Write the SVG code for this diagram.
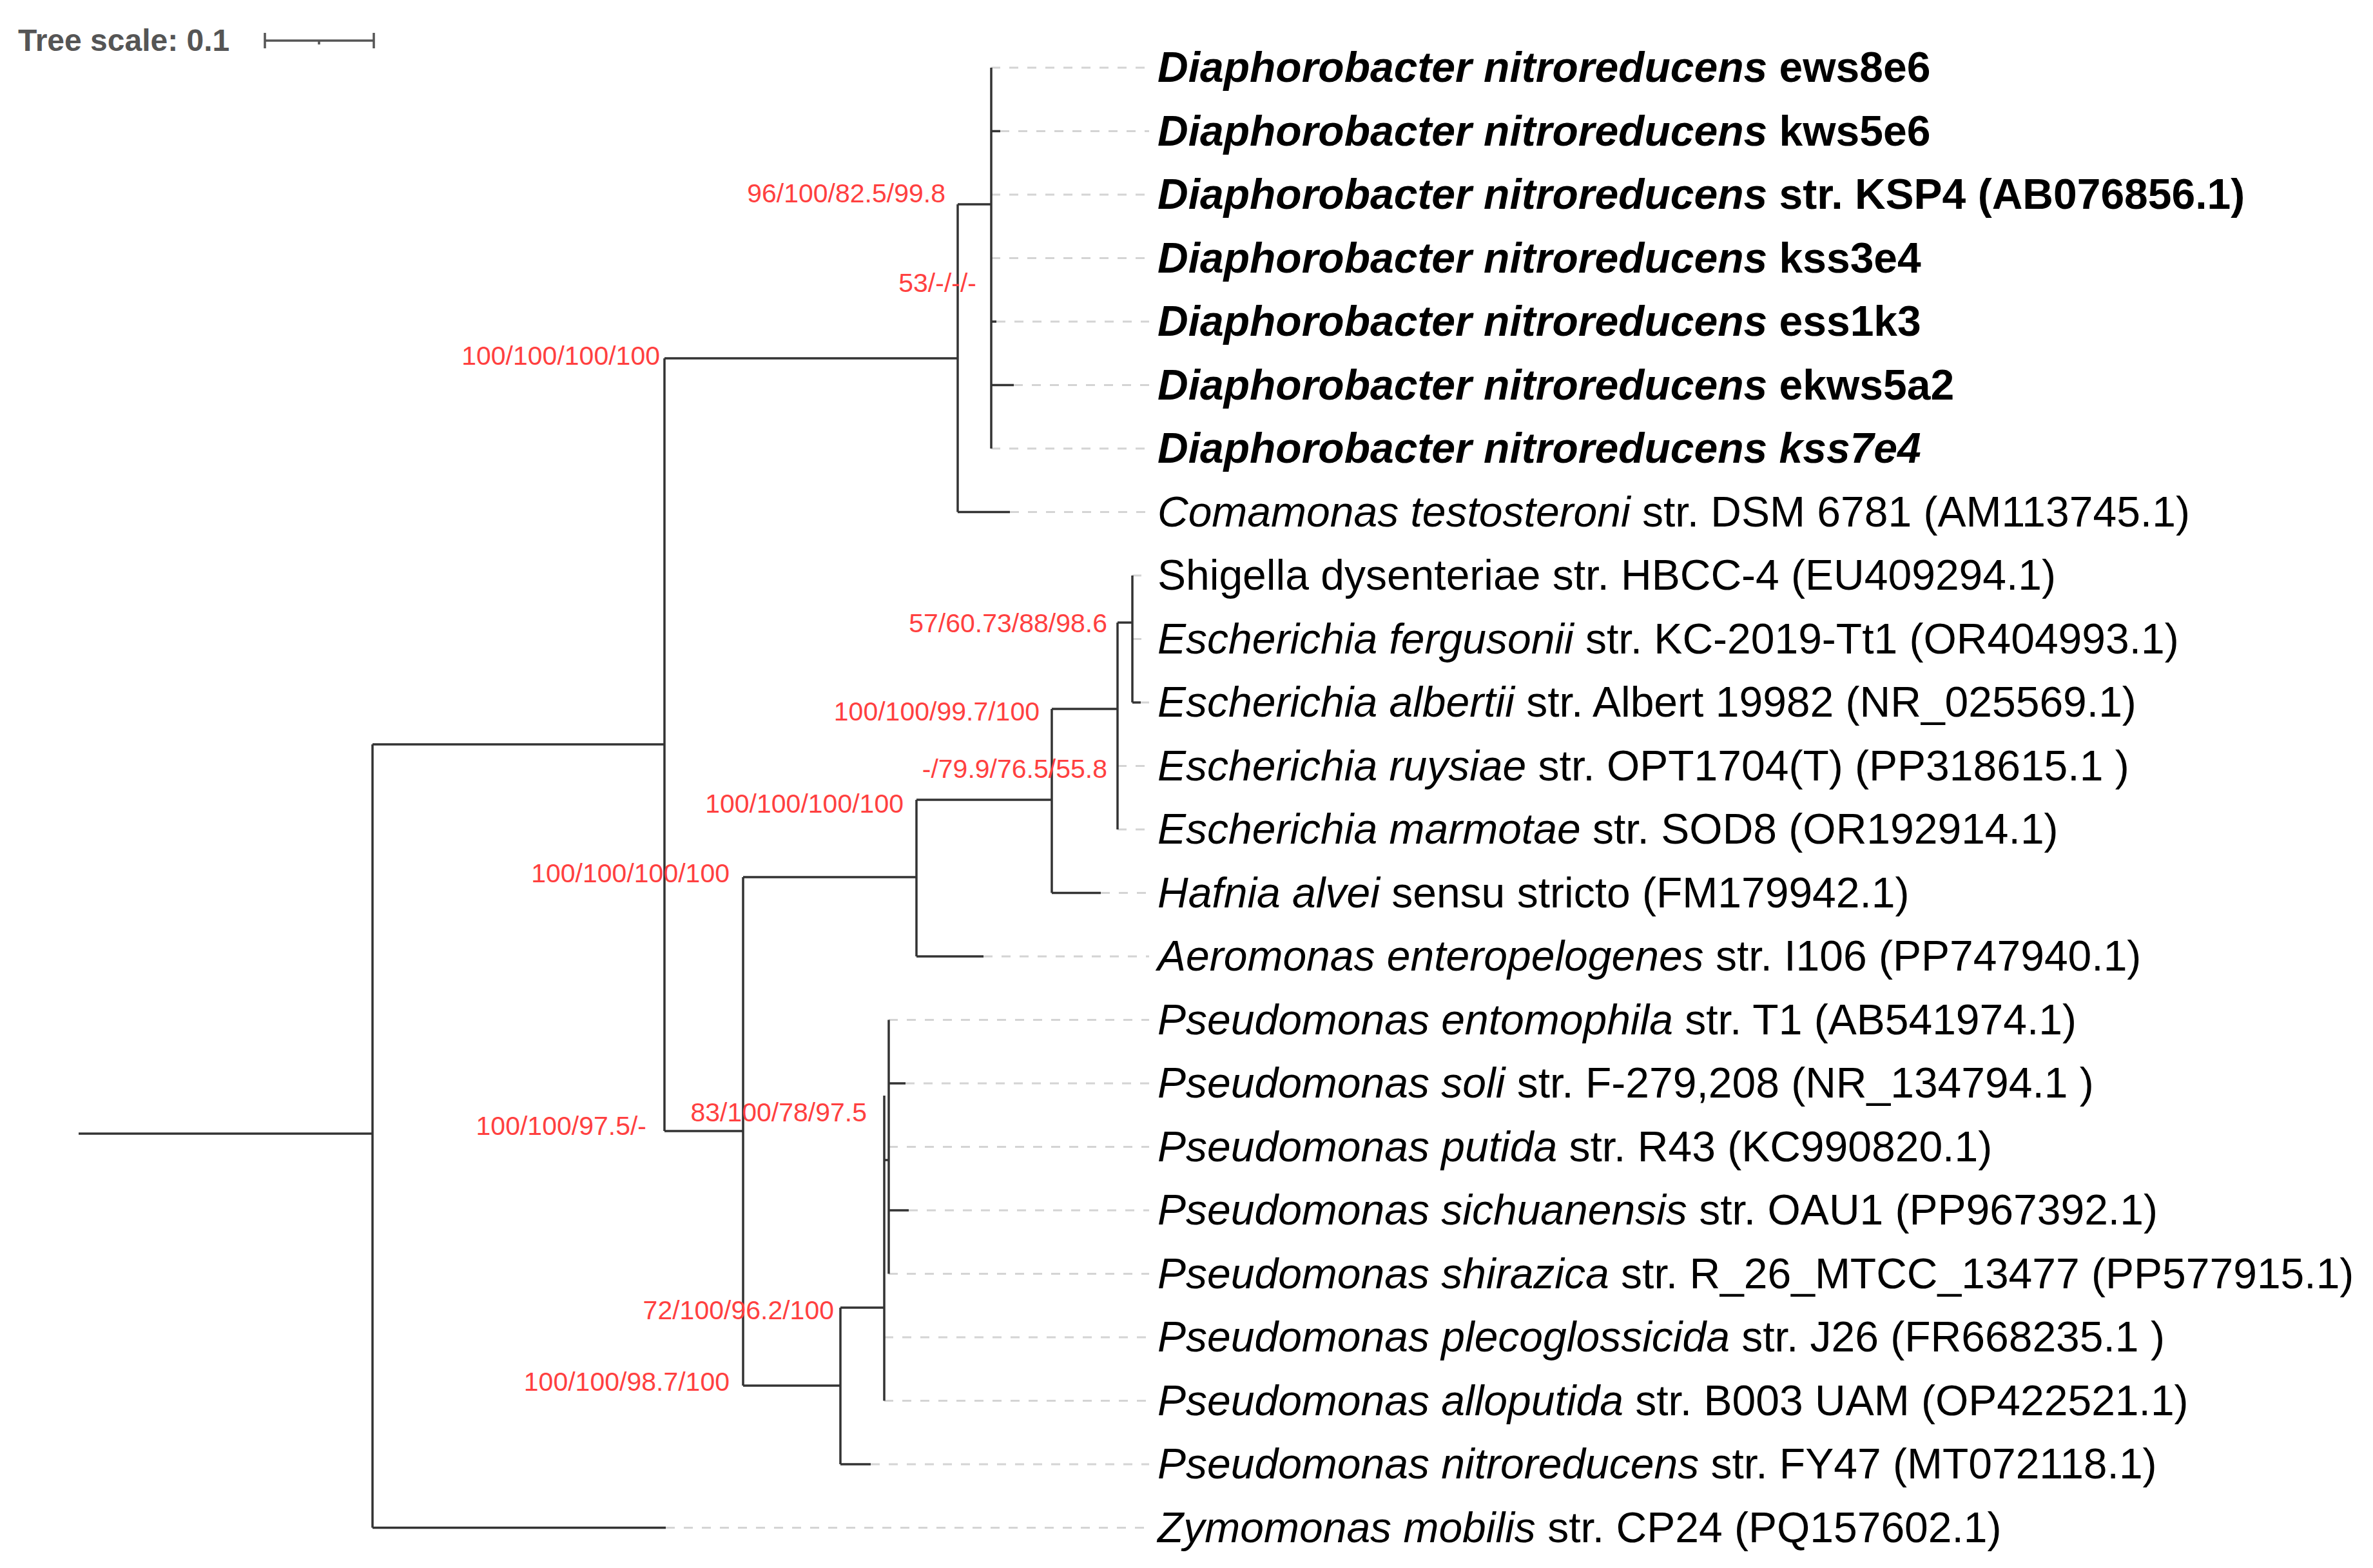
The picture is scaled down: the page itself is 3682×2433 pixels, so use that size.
<svg xmlns="http://www.w3.org/2000/svg" width="3682" height="2433" viewBox="0 0 3682 2433">
<style>
.b{stroke:#333;stroke-width:3.5;fill:none}
.d{stroke:#d4d4d4;stroke-width:3;stroke-dasharray:14 14;fill:none}
.s{font-family:"Liberation Sans",Arial,sans-serif;font-size:41px;fill:#ff4040}
.l{font-family:"Liberation Sans",Arial,sans-serif;font-size:66px;fill:#000}
.bo{font-weight:bold}
</style>
<rect width="3682" height="2433" fill="#fff"/>
<g id="scale">
<text x="28" y="79" font-family="Liberation Sans,Arial,sans-serif" font-size="48" font-weight="bold" fill="#555">Tree scale: 0.1</text>
<path d="M411 63H580M411 51V75M580 51V75M495 63V69" stroke="#555" stroke-width="3.5" fill="none"/>
</g>
<g id="connectors">
<path class="d" d="M1538 105H1783M1552 203.5H1783M1538 302H1783M1538 400.5H1783M1546 499H1783M1573 597.5H1783M1538 696H1783M1567 794.5H1783M1757 893H1783M1757 991.5H1783M1770 1090H1783M1734 1188.5H1783M1734 1287H1783M1708 1385.5H1783M1526 1484H1783M1379 1582.5H1783M1405 1681H1783M1379 1779.5H1783M1410 1878H1783M1379 1976.5H1783M1372 2075H1783M1372 2173.5H1783M1351 2272H1783M1033 2370.5H1783"/>
<path class="b" d="M122 1759H578M578 1155V2370.5M578 1155H1031M578 2370.5H1033M1031 556V1755M1031 556H1486M1486 317V794.5M1486 794.5H1567M1486 317H1538M1538 105V696M1538 203.5H1552M1538 499H1546M1538 597.5H1573M1031 1755H1153M1153 1361V2150M1153 1361H1422M1422 1241V1484M1422 1484H1526M1422 1241H1632M1632 1100V1385.5M1632 1385.5H1708M1632 1100H1734M1734 966V1287M1734 966H1757M1757 893V1090M1757 1090H1770M1153 2150H1304M1304 2029V2272M1304 2272H1351M1304 2029H1372M1372 1700V2173.5M1372 1800H1379M1379 1582.5V1976.5M1379 1681H1405M1379 1878H1410"/>
</g>
<g id="support" text-anchor="end">
<text class="s" x="1467" y="314">96/100/82.5/99.8</text>
<text class="s" x="1515" y="453">53/-/-/-</text>
<text class="s" x="1024" y="566">100/100/100/100</text>
<text class="s" x="1718" y="981">57/60.73/88/98.6</text>
<text class="s" x="1613" y="1118">100/100/99.7/100</text>
<text class="s" x="1718" y="1207">-/79.9/76.5/55.8</text>
<text class="s" x="1402" y="1261">100/100/100/100</text>
<text class="s" x="1132" y="1369">100/100/100/100</text>
<text class="s" x="1003" y="1761">100/100/97.5/-</text>
<text class="s" x="1345" y="1740">83/100/78/97.5</text>
<text class="s" x="1294" y="2047">72/100/96.2/100</text>
<text class="s" x="1132" y="2158">100/100/98.7/100</text>
</g>
<g id="leaves">
<text class="l bo" x="1796" y="127"><tspan font-style="italic">Diaphorobacter nitroreducens</tspan> ews8e6</text>
<text class="l bo" x="1796" y="225.5"><tspan font-style="italic">Diaphorobacter nitroreducens</tspan> kws5e6</text>
<text class="l bo" x="1796" y="324"><tspan font-style="italic">Diaphorobacter nitroreducens</tspan> str. KSP4 (AB076856.1)</text>
<text class="l bo" x="1796" y="422.5"><tspan font-style="italic">Diaphorobacter nitroreducens</tspan> kss3e4</text>
<text class="l bo" x="1796" y="521"><tspan font-style="italic">Diaphorobacter nitroreducens</tspan> ess1k3</text>
<text class="l bo" x="1796" y="619.5"><tspan font-style="italic">Diaphorobacter nitroreducens</tspan> ekws5a2</text>
<text class="l bo" x="1796" y="718" font-style="italic">Diaphorobacter nitroreducens kss7e4</text>
<text class="l" x="1796" y="816.5"><tspan font-style="italic">Comamonas testosteroni</tspan> str. DSM 6781 (AM113745.1)</text>
<text class="l" x="1796" y="915">Shigella dysenteriae str. HBCC-4 (EU409294.1)</text>
<text class="l" x="1796" y="1013.5"><tspan font-style="italic">Escherichia fergusonii</tspan> str. KC-2019-Tt1 (OR404993.1)</text>
<text class="l" x="1796" y="1112"><tspan font-style="italic">Escherichia albertii</tspan> str. Albert 19982 (NR_025569.1)</text>
<text class="l" x="1796" y="1210.5"><tspan font-style="italic">Escherichia ruysiae</tspan> str. OPT1704(T) (PP318615.1 )</text>
<text class="l" x="1796" y="1309"><tspan font-style="italic">Escherichia marmotae</tspan> str. SOD8 (OR192914.1)</text>
<text class="l" x="1796" y="1407.5"><tspan font-style="italic">Hafnia alvei</tspan> sensu stricto (FM179942.1)</text>
<text class="l" x="1796" y="1506"><tspan font-style="italic">Aeromonas enteropelogenes</tspan> str. I106 (PP747940.1)</text>
<text class="l" x="1796" y="1604.5"><tspan font-style="italic">Pseudomonas entomophila</tspan> str. T1 (AB541974.1)</text>
<text class="l" x="1796" y="1703"><tspan font-style="italic">Pseudomonas soli</tspan> str. F-279,208 (NR_134794.1 )</text>
<text class="l" x="1796" y="1801.5"><tspan font-style="italic">Pseudomonas putida</tspan> str. R43 (KC990820.1)</text>
<text class="l" x="1796" y="1900"><tspan font-style="italic">Pseudomonas sichuanensis</tspan> str. OAU1 (PP967392.1)</text>
<text class="l" x="1796" y="1998.5"><tspan font-style="italic">Pseudomonas shirazica</tspan> str. R_26_MTCC_13477 (PP577915.1)</text>
<text class="l" x="1796" y="2097"><tspan font-style="italic">Pseudomonas plecoglossicida</tspan> str. J26 (FR668235.1 )</text>
<text class="l" x="1796" y="2195.5"><tspan font-style="italic">Pseudomonas alloputida</tspan> str. B003 UAM (OP422521.1)</text>
<text class="l" x="1796" y="2294"><tspan font-style="italic">Pseudomonas nitroreducens</tspan> str. FY47 (MT072118.1)</text>
<text class="l" x="1796" y="2392.5"><tspan font-style="italic">Zymomonas mobilis</tspan> str. CP24 (PQ157602.1)</text>
</g>
</svg>
